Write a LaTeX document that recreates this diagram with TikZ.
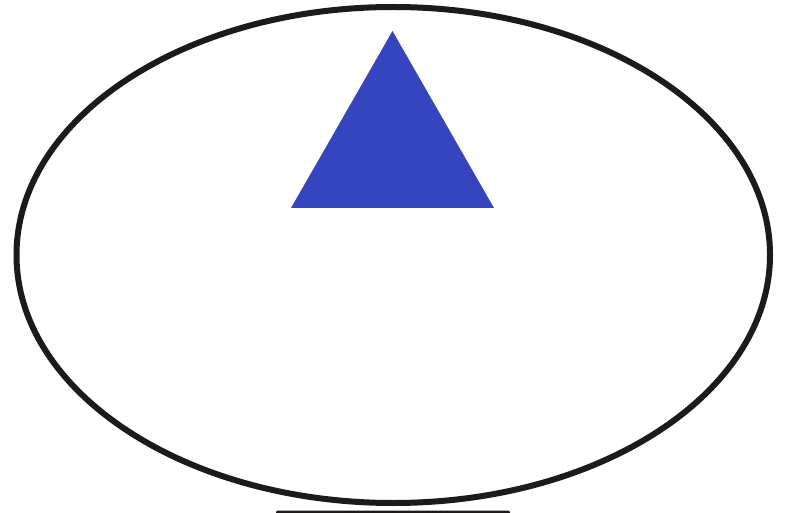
\documentclass[tikz,border=0pt]{standalone}
\definecolor{triblue}{RGB}{53,69,192}
\definecolor{inkdark}{RGB}{30,26,26}
\begin{document}
\begin{tikzpicture}[x=1pt,y=-1pt,
  outline/.style={draw=inkdark,line width=6pt},
  tri/.style={fill=triblue}]
\useasboundingbox (0,0) rectangle (790,513);
\fill[white] (0,0) rectangle (790,513);
\draw[outline] (393.25,255) ellipse [x radius=376.75, y radius=248];
\fill[tri] (392.5,31) -- (494,208) -- (291,208) -- cycle;
\fill[inkdark,rounded corners=2pt] (276,510.5) rectangle (510,518);
\end{tikzpicture}
\end{document}
